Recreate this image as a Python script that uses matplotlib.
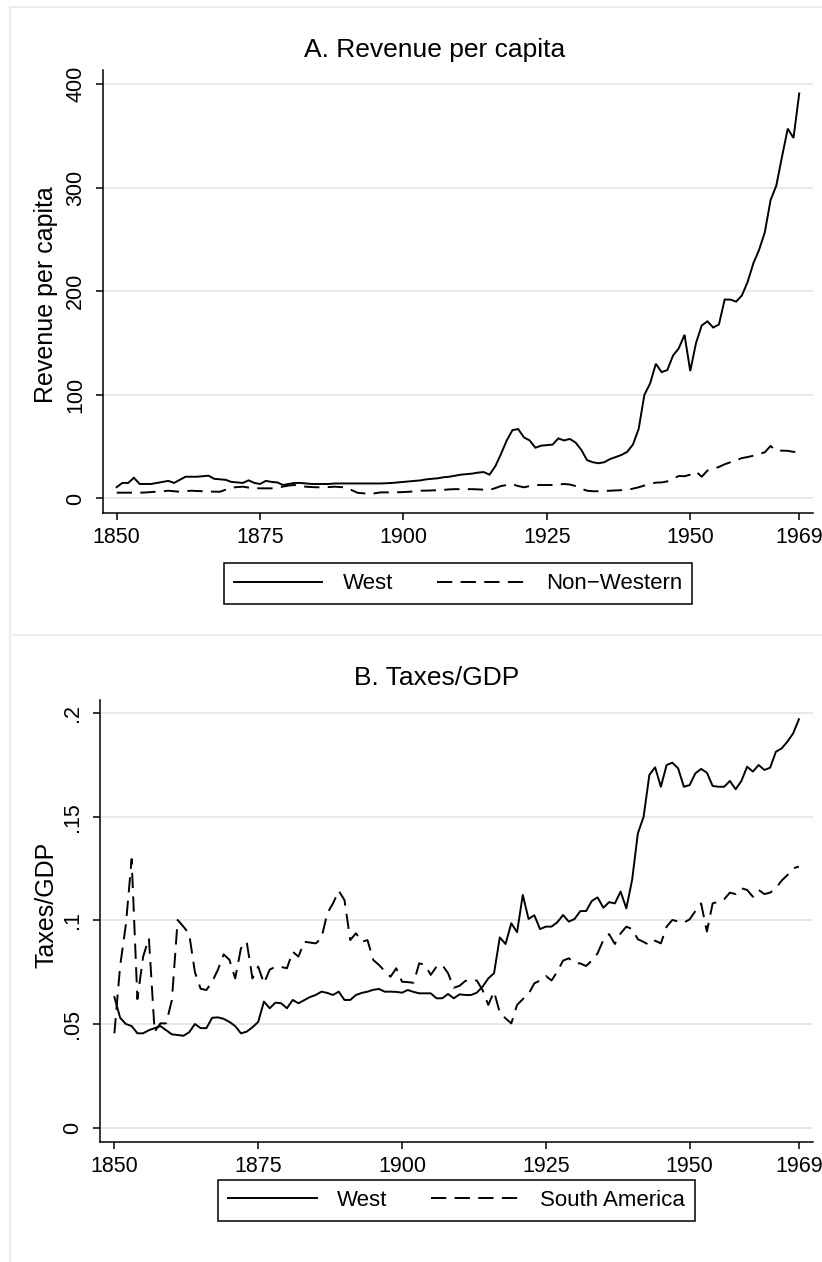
import numpy as np
import matplotlib
matplotlib.use("Agg")
import matplotlib.pyplot as plt
from matplotlib.lines import Line2D
from matplotlib.patches import Rectangle

plt.rcParams["font.family"] = ["Liberation Sans", "DejaVu Sans"]
plt.rcParams["lines.scale_dashes"] = False

years = np.arange(1850, 1970)

# Panel A: revenue per capita
rev_west = [
    11, 15, 15, 20, 14, 14, 14, 15, 16, 17,
    15, 18, 21, 21, 21, 21.5, 22, 19, 18.5, 18,
    16, 15.5, 15, 17.5, 15, 14, 17, 16, 15.5, 13,
    14, 15, 15, 14.5, 14, 14, 14, 14, 14.5, 14.5,
    14.5, 14.5, 14.5, 14.5, 14.5, 14.5, 14.5, 14.7, 15, 15.5,
    16, 16.5, 17, 17.5, 18.5, 19, 19.5, 20.5, 21, 22,
    23, 23.5, 24, 25, 25.5, 23, 31, 43, 56, 66,
    67, 59, 56, 49, 51, 51.5, 52, 58, 56, 57.5,
    54, 47, 37, 35, 34, 35, 38, 40, 42, 45,
    52, 67, 100, 111, 130, 122, 124, 138, 145, 158,
    123, 150, 167, 171, 165, 168, 192, 192, 190, 196,
    209, 227, 240, 257, 288, 302, 330, 357, 348, 391,
]
rev_nonwest = [
    5.6, 5.6, 5.6, 5.6, 5.6, 5.8, 6.2, 6.6, 7, 7.5,
    7, 6.5, 7, 7.5, 7.2, 7, 6.8, 6.6, 6.5, 8.5,
    10.5, 11, 11.4, 10.5, 10, 9.8, 9.8, 9.8, 10.5, 11.5,
    12.5, 13, 12, 11.4, 11, 10.8, 10.8, 11, 11.4, 11,
    10.8, 8, 5.5, 5, 4.3, 5, 5.9, 5.9, 5.9, 6,
    6.2, 6.5, 7, 7.5, 7.6, 7.8, 8, 8.3, 8.8, 9,
    9, 9, 9, 8.8, 8.5, 8.2, 10, 12, 13, 13.7,
    12, 10.8, 12, 13, 13, 13, 13, 13.5, 14, 13.5,
    12, 9.5, 7.5, 7, 7, 7.2, 7.5, 7.8, 8, 8.2,
    9.5, 10.8, 12.5, 14, 15.3, 15.5, 16.5, 19, 21.7, 21.5,
    23, 26, 21, 27, 28.5, 30.5, 33, 35, 37, 39,
    40, 41.3, 43, 44.6, 50.7, 45.9, 46.2, 46, 45, 45,
]

# Panel B: taxes as a share of GDP
tax_west = [
    0.063, 0.053, 0.050, 0.049, 0.0455, 0.0455, 0.047, 0.048, 0.049, 0.047,
    0.045, 0.0447, 0.0443, 0.046, 0.050, 0.048, 0.048, 0.053, 0.0532, 0.0525,
    0.051, 0.049, 0.0455, 0.0463, 0.0484, 0.051, 0.0608, 0.0576, 0.0603, 0.060,
    0.0576, 0.0616, 0.060, 0.0615, 0.063, 0.064, 0.0656, 0.065, 0.064, 0.0656,
    0.0616, 0.0616, 0.064, 0.065, 0.0656, 0.0665, 0.0669, 0.0656, 0.0656, 0.0655,
    0.0651, 0.0664, 0.0655, 0.0648, 0.0648, 0.0648, 0.0624, 0.0624, 0.0645, 0.0624,
    0.0643, 0.064, 0.064, 0.0651, 0.068, 0.072, 0.0745, 0.0918, 0.0886, 0.0986,
    0.0943, 0.1123, 0.1007, 0.1025, 0.0958, 0.097, 0.097, 0.0991, 0.1026, 0.0994,
    0.1007, 0.1045, 0.1045, 0.1094, 0.1111, 0.1061, 0.1088, 0.1082, 0.1139, 0.1058,
    0.1195, 0.142, 0.150, 0.1702, 0.1739, 0.1645, 0.175, 0.1761, 0.1734, 0.1645,
    0.1653, 0.171, 0.1731, 0.1713, 0.1649, 0.1645, 0.1645, 0.1673, 0.1633, 0.1673,
    0.1742, 0.1718, 0.175, 0.1726, 0.1737, 0.1814, 0.183, 0.1863, 0.1903, 0.1971,
]
tax_southam = [
    0.0455, 0.078, 0.098, 0.1296, 0.062, 0.0825, 0.0914, 0.0463, 0.0503, 0.0503,
    0.0616, 0.1002, 0.097, 0.0935, 0.075, 0.067, 0.0664, 0.0704, 0.0762, 0.0836,
    0.081, 0.072, 0.0865, 0.0897, 0.072, 0.0777, 0.0696, 0.0762, 0.0777, 0.0775,
    0.0769, 0.0849, 0.0825, 0.0897, 0.0893, 0.0889, 0.0914, 0.1034, 0.1082, 0.1143,
    0.1098, 0.0905, 0.0938, 0.0897, 0.0905, 0.0809, 0.0785, 0.0755, 0.0728, 0.0769,
    0.0704, 0.0702, 0.0699, 0.0793, 0.0785, 0.0737, 0.0777, 0.0785, 0.0745, 0.0675,
    0.0684, 0.0708, 0.071, 0.071, 0.0664, 0.0592, 0.0656, 0.0555, 0.0527, 0.0503,
    0.0592, 0.062, 0.0645, 0.0696, 0.071, 0.0732, 0.071, 0.0753, 0.0806, 0.0817,
    0.0795, 0.0792, 0.078, 0.0806, 0.0841, 0.0905, 0.0934, 0.0886, 0.0937, 0.097,
    0.0958, 0.0909, 0.0896, 0.0881, 0.0902, 0.0889, 0.097, 0.1002, 0.0995, 0.0989,
    0.1005, 0.1045, 0.1082, 0.0946, 0.1082, 0.109, 0.1102, 0.1134, 0.1127, 0.1155,
    0.1147, 0.1114, 0.1147, 0.1127, 0.1134, 0.1155, 0.1192, 0.1219, 0.1251, 0.126,
]

xticks = [1850, 1875, 1900, 1925, 1950, 1969]
a_yticks = [0, 100, 200, 300, 400]
a_ylabels = ["0", "100", "200", "300", "400"]
b_yticks = [0, 0.05, 0.1, 0.15, 0.2]
b_ylabels = ["0", ".05", ".1", ".15", ".2"]

W, H = 822, 1262
fig = plt.figure(figsize=(W / 100, H / 100), dpi=100)
fig.patch.set_facecolor("white")


def fx(x):
    return x / W


def fy(y):
    return 1 - y / H


def place(ax, left, right, top, bottom):
    ax.set_position([fx(left), fy(bottom), fx(right) - fx(left), fy(top) - fy(bottom)])


# light outlines around each graph region
border = "#ececec"
fig.add_artist(Rectangle((fx(10), fy(635)), 2, fy(7) - fy(635), transform=fig.transFigure,
                         fill=False, edgecolor=border, linewidth=1.5))
fig.add_artist(Rectangle((fx(10), fy(1300)), 2, fy(635) - fy(1300), transform=fig.transFigure,
                         fill=False, edgecolor=border, linewidth=1.5))

DASH = (0, (11, 6))
LW = 1.4
TICK_FS = 15.5


def style(ax, yticks, ylabels):
    for s in ("top", "right"):
        ax.spines[s].set_visible(False)
    for s in ("left", "bottom"):
        ax.spines[s].set_linewidth(1.1)
    ax.set_xticks(xticks)
    ax.set_xticklabels([str(t) for t in xticks], fontsize=TICK_FS)
    ax.set_yticks(yticks)
    ax.set_yticklabels(ylabels, fontsize=TICK_FS, rotation=90, va="center")
    ax.tick_params(axis="x", direction="out", length=5, width=1.1, pad=5)
    ax.tick_params(axis="y", direction="out", length=5, width=1.1, pad=7)
    ax.yaxis.grid(True, color="#e8e8e8", linewidth=1.4)
    ax.set_axisbelow(True)


# ---- Panel A ----
axA = fig.add_axes([0, 0, 1, 1])
place(axA, 102.7, 813, 70, 513.3)
axA.plot(years, rev_west, color="black", lw=LW, solid_joinstyle="miter")
axA.plot(years, rev_nonwest, color="black", lw=LW, linestyle=DASH)
axA.set_xlim(1847.56, 1971.4)
axA.set_ylim(-14.3, (498.5 - 70) / 1.036)
style(axA, a_yticks, a_ylabels)
fig.text(fx(435), fy(50), "A. Revenue per capita", fontsize=19, ha="center", va="center")
fig.text(fx(46), fy(295), "Revenue per capita", fontsize=18, rotation=90, ha="center", va="center")

handlesA = [Line2D([], [], color="black", lw=LW),
            Line2D([], [], color="black", lw=LW, linestyle=DASH)]
legA = fig.legend(handlesA, ["West", "Non\u2212Western"], loc="center",
                  bbox_to_anchor=(fx(458), fy(584)), ncol=2, fontsize=16,
                  frameon=True, fancybox=False, edgecolor="black", framealpha=1,
                  handlelength=4.0, handletextpad=0.9, columnspacing=2.0,
                  borderpad=0.45, borderaxespad=0)
legA.get_frame().set_linewidth(1.1)

# ---- Panel B ----
axB = fig.add_axes([0, 0, 1, 1])
place(axB, 100, 813.3, 700, 1142.3)
axB.plot(years, tax_west, color="black", lw=LW)
axB.plot(years, tax_southam, color="black", lw=LW, linestyle=DASH)
axB.set_xlim(1847.5, 1971.5)
axB.set_ylim(-0.0071, (1127.6 - 700) / 2072)
style(axB, b_yticks, b_ylabels)
fig.text(fx(437), fy(678), "B. Taxes/GDP", fontsize=19, ha="center", va="center")
fig.text(fx(46), fy(905), "Taxes/GDP", fontsize=18, rotation=90, ha="center", va="center")

handlesB = [Line2D([], [], color="black", lw=LW),
            Line2D([], [], color="black", lw=LW, linestyle=DASH)]
legB = fig.legend(handlesB, ["West", "South America"], loc="center",
                  bbox_to_anchor=(fx(456.5), fy(1200.5)), ncol=2, fontsize=16,
                  frameon=True, fancybox=False, edgecolor="black", framealpha=1,
                  handlelength=4.0, handletextpad=0.9, columnspacing=2.0,
                  borderpad=0.45, borderaxespad=0)
legB.get_frame().set_linewidth(1.1)

fig.savefig("out.png", dpi=100, facecolor="white")
